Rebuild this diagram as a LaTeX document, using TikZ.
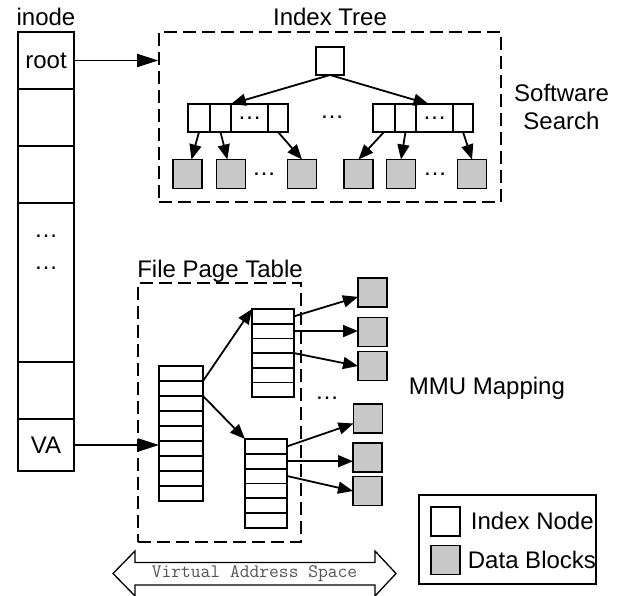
\documentclass[tikz,border=0pt]{standalone}
\usepackage{fontspec}
\setmainfont{Liberation Sans}
\usepackage{tikz}
\usetikzlibrary{positioning, calc, arrows.meta}
\definecolor{blockgray}{RGB}{200,200,200}
\definecolor{vasgray}{RGB}{85,85,85}

\tikzset{
  slot/.style={draw, inner sep=0pt, outer sep=0pt, minimum width=56pt},
  key/.style={draw, inner sep=0pt, outer sep=0pt, minimum height=28pt},
  blk/.style={draw, fill=blockgray, inner sep=0pt, outer sep=0pt, minimum size=29pt},
  pte/.style={draw, inner sep=0pt, outer sep=0pt},
  region/.style={draw, line width=1.6pt, dash pattern=on 13pt off 6pt, inner sep=0pt},
  lbl/.style={inner sep=0pt, anchor=base},
  ptr/.style={-{Triangle[length=15pt,width=12pt]}},
  bigptr/.style={-{Triangle[length=21pt,width=13pt]}}
}

\begin{document}
\begin{tikzpicture}[x=1pt, y=-1pt, line width=1.8pt, font=\fontsize{24}{28}\selectfont]
	\useasboundingbox (0,0) rectangle (623,596);

	% inode column
	\node[lbl] (inodelbl) at (46,26) {inode};
	\node[slot, minimum height=57pt] (iroot) at (46,60.5) {root};
	\node[slot, minimum height=57pt] (i2) at (46,117.5) {};
	\node[slot, minimum height=57pt] (i3) at (46,174.5) {};
	\node[slot, minimum height=159pt] (i4) at (46,282.5) {};
	\node[slot, minimum height=57pt] (i5) at (46,390.5) {};
	\node[slot, minimum height=52pt] (iva) at (46,445) {VA};
	\node[align=center, inner sep=0pt, font=\fontsize{24}{32}\selectfont] (idots) at (46,252) {\dots\\\dots};

	% index tree
	\node[region, minimum width=342pt, minimum height=170pt] (tree) at (330,117) {};
	\node[lbl] (treelbl) at (330,26) {Index Tree};
	\node[key, minimum width=28pt] (troot) at (330,61) {};

	\node[key, minimum width=22pt, anchor=west] (l1) at (188,118) {};
	\node[key, minimum width=21pt, right=0pt of l1] (l2) {};
	\node[key, minimum width=37pt, right=0pt of l2] (l3) {\dots};
	\node[key, minimum width=20pt, right=0pt of l3] (l4) {};

	\node[key, minimum width=22pt, anchor=west] (r1) at (373,118) {};
	\node[key, minimum width=21pt, right=0pt of r1] (r2) {};
	\node[key, minimum width=37pt, right=0pt of r2] (r3) {\dots};
	\node[key, minimum width=20pt, right=0pt of r3] (r4) {};

	\node (kdots) at (332,117) {\dots};

	\node[blk] (la) at (187.5,174) {};
	\node[blk] (lb) at (231,174) {};
	\node (ldots) at (264,174) {\dots};
	\node[blk] (lc) at (302,174) {};
	\node[blk] (ld) at (358.5,174) {};
	\node[blk] (le) at (401,174) {};
	\node (rdots) at (435,174) {\dots};
	\node[blk] (lf) at (472,174) {};

	\draw[ptr] (troot.south) -- (l3.north west);
	\draw[ptr] (troot.south) -- ($(r3.north)+(-6,0)$);
	\draw[ptr] (l1.south) -- (la);
	\draw[ptr] (l2.south) -- (lb);
	\draw[ptr] (l4.south) -- (lc.north);
	\draw[ptr] (r1.south) -- (ld.north);
	\draw[ptr] (r2.south) -- (le.north);
	\draw[ptr] (r4.south) -- (lf.north);

	\node[align=center, anchor=north, inner sep=0pt] (sws) at (561.5,83) {Software\\Search};

	% file page table
	\node[region, minimum width=163pt, minimum height=259pt] (fpt) at (219.5,412.5) {};
	\node[lbl] (fptlbl) at (220,277) {File Page Table};
	\foreach \i in {1,...,9}
		\node[pte, minimum width=44pt, minimum height=15pt] (m\i) at (181,{358.5+15*\i}) {};
	\foreach \i in {1,...,6}
		\node[pte, minimum width=42pt, minimum height=14.7pt] (u\i) at (273,{301.65+14.7*\i}) {};
	\foreach \i in {1,...,6}
		\node[pte, minimum width=42pt, minimum height=14.8pt] (d\i) at (266,{431.6+14.8*\i}) {};

	\node[blk] (b1) at (372.5,292.5) {};
	\node[blk] (b2) at (372.5,332) {};
	\node[blk] (b3) at (372.5,366) {};
	\node (pdots) at (327,398) {\dots};
	\node[blk] (b4) at (368,418.5) {};
	\node[blk] (b5) at (367.5,457.5) {};
	\node[blk] (b6) at (367.5,491) {};

	\draw[ptr] (m1.south east) -- (u1.north west);
	\draw[ptr] (m2.south east) -- (d1.north west);
	\draw[ptr] (u1.east) -- (b1);
	\draw[ptr] (u2.east) -- (u2.east -| b2.west);
	\draw[ptr] (u3.south east) -- (b3.west);
	\draw[ptr] (d1.east) -- (b4);
	\draw[ptr] (d2.east) -- (d2.east -| b5.west);
	\draw[ptr] (d3.east) -- (b6.west);

	\node[lbl, anchor=base west] (mmu) at (408,394) {MMU Mapping};

	% pointers out of the inode
	\draw[bigptr] (iroot.east) -- (iroot.east -| tree.west);
	\draw[bigptr] (iva.east) -- (iva.east -| m1.west);

	% virtual address space
	\node[font=\ttfamily\fontsize{19}{22}\selectfont, text=vasgray, inner sep=0pt] (vas) at (254.5,574) {Virtual Address Space};
	\draw[line width=1.3pt] (113,573.5) -- (135,551) -- (135,562.5) -- (375,562.5) -- (375,551)
		-- (396,573.5) -- (375,596) -- (375,585) -- (135,585) -- (135,596) -- cycle;

	% legend
	\node[draw, line width=1.3pt, minimum width=177pt, minimum height=89pt] (legend) at (507.5,539.5) {};
	\node[key, minimum width=29pt, minimum height=29pt] (keyicon) at (445.5,521.5) {};
	\node[blk] (blkicon) at (445.5,560) {};
	\node[lbl, anchor=base west] (keytxt) at (470,529) {Index Node};
	\node[lbl, anchor=base west] (blktxt) at (467,568) {Data Blocks};
\end{tikzpicture}
\end{document}
